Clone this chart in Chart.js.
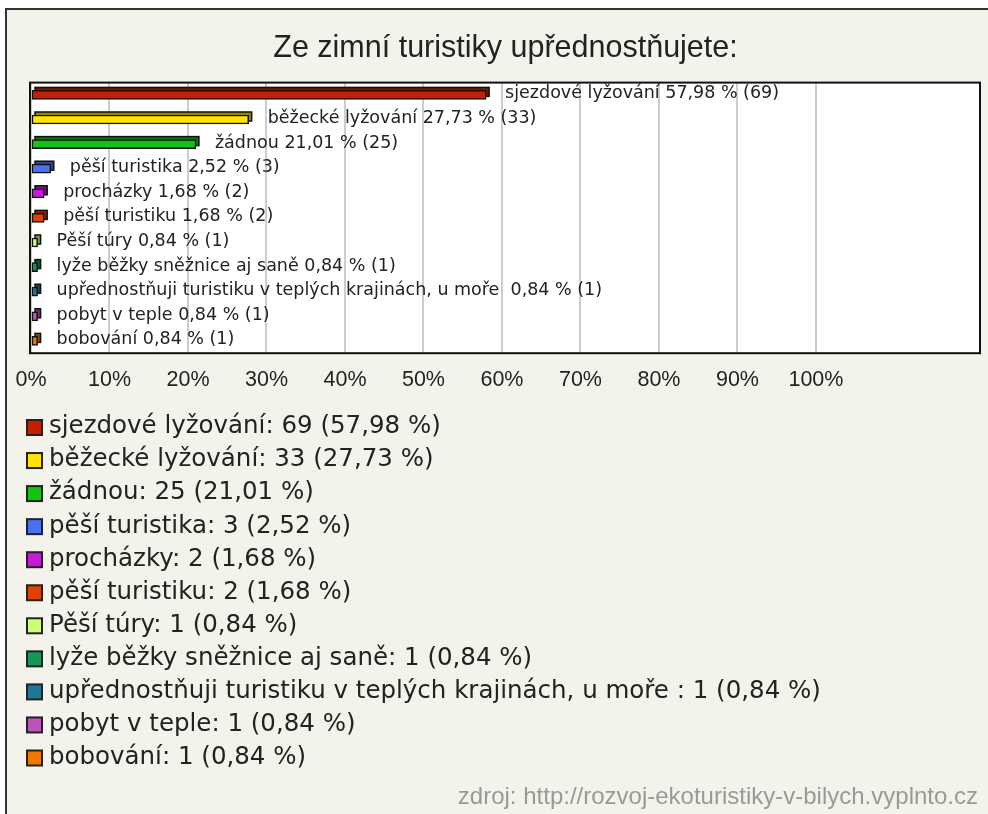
<!DOCTYPE html>
<html>
<head>
<meta charset="utf-8">
<script src="https://cdn.jsdelivr.net/npm/chart.js@4"></script>
<style>
  body { margin: 0; background: #fff; }
  #ramecek {
    position: absolute; left: 5px; top: 8px;
    width: 981px; height: 804px;
    background: #f4f3eb;
    border-left: 2px solid #333; border-top: 2px solid #333;
  }
</style>
</head>
<body>
<div id="ramecek"><canvas id="graf" width="981" height="804"></canvas></div>
<script>
// data z obrázku
const nadpis = "Ze zimní turistiky upřednostňujete:";
const zdroj = "zdroj: http://rozvoj-ekoturistiky-v-bilych.vyplnto.cz";
const moznosti = [
  "sjezdové lyžování",
  "běžecké lyžování",
  "žádnou",
  "pěší turistika",
  "procházky",
  "pěší turistiku",
  "Pěší túry",
  "lyže běžky sněžnice aj saně",
  "upřednostňuji turistiku v teplých krajinách, u moře ",
  "pobyt v teple",
  "bobování"
];
const pocty = [69, 33, 25, 3, 2, 2, 1, 1, 1, 1, 1];
const procenta = [57.98, 27.73, 21.01, 2.52, 1.68, 1.68, 0.84, 0.84, 0.84, 0.84, 0.84];
const barvy = ["#c42000", "#ffe400", "#14c414", "#4a72f0", "#c818d8", "#e04000",
               "#ccff77", "#119955", "#227799", "#bb55bb", "#ee7700"];
const osaTicky = [0, 10, 20, 30, 40, 50, 60, 70, 80, 90, 100];

const fmt = v => v.toFixed(2).replace(".", ",");

function ztmavit(hex, k) {
  const n = parseInt(hex.slice(1), 16);
  const r = Math.round(((n >> 16) & 255) * k);
  const g = Math.round(((n >> 8) & 255) * k);
  const b = Math.round((n & 255) * k);
  return `rgb(${r},${g},${b})`;
}

// bílé pozadí plochy a zadní stěna sloupců (3D efekt)
const pozadi = {
  id: "pozadi",
  beforeDraw(chart) {
    const { ctx, chartArea: a } = chart;
    ctx.save();
    ctx.fillStyle = "#fff";
    ctx.fillRect(a.left, a.top, a.right - a.left, a.bottom - a.top);
    ctx.restore();
  },
  beforeDatasetsDraw(chart) {
    const ctx = chart.ctx;
    const meta = chart.getDatasetMeta(0);
    ctx.save();
    meta.data.forEach((bar, i) => {
      const { x, y, base, height } = bar.getProps(["x", "y", "base", "height"], true);
      ctx.fillStyle = ztmavit(barvy[i], 0.6);
      ctx.strokeStyle = "#111";
      ctx.lineWidth = 1.5;
      ctx.fillRect(base + 3, y - height / 2 - 3, x - base, height);
      ctx.strokeRect(base + 3, y - height / 2 - 3, x - base, height);
    });
    ctx.restore();
  }
};

// popisky za sloupci, rámeček, legenda a zdroj
const popisky = {
  id: "popisky",
  afterDatasetsDraw(chart) {
    const ctx = chart.ctx;
    const meta = chart.getDatasetMeta(0);
    ctx.save();
    ctx.font = "17.5px 'DejaVu Sans'";
    ctx.fillStyle = "#222";
    ctx.textBaseline = "middle";
    meta.data.forEach((bar, i) => {
      ctx.fillText(moznosti[i] + " " + fmt(procenta[i]) + " % (" + pocty[i] + ")", bar.x + 19, bar.y - 1);
    });
    ctx.restore();
  },
  afterDraw(chart) {
    const { ctx, chartArea: a } = chart;
    ctx.save();
    ctx.strokeStyle = "#111";
    ctx.lineWidth = 2;
    ctx.strokeRect(a.left - 1, a.top, a.right - a.left + 1, a.bottom - a.top);

    ctx.textBaseline = "middle";
    moznosti.forEach((m, i) => {
      const y = 417 + 33.05 * i;
      ctx.fillStyle = barvy[i];
      ctx.fillRect(20, y - 7, 15, 15);
      ctx.strokeStyle = "#222";
      ctx.lineWidth = 2;
      ctx.strokeRect(20, y - 7, 15, 15);
      ctx.fillStyle = "#222";
      ctx.font = "24.5px 'DejaVu Sans'";
      ctx.fillText(m + ": " + pocty[i] + " (" + fmt(procenta[i]) + " %)", 42, y);
    });

    ctx.fillStyle = "#999";
    ctx.font = "24px 'Liberation Sans'";
    ctx.textAlign = "right";
    ctx.fillText(zdroj, 971, 787);
    ctx.restore();
  }
};

new Chart(document.getElementById("graf"), {
  type: "bar",
  data: {
    labels: moznosti,
    datasets: [{
      data: procenta,
      backgroundColor: barvy,
      borderColor: "#111",
      borderWidth: 1.5,
      borderSkipped: false,
      barThickness: 9
    }]
  },
  options: {
    indexAxis: "y",
    responsive: false,
    animation: false,
    layout: { padding: { left: 24, right: 8, top: 0, bottom: 407 } },
    plugins: {
      legend: { display: false },
      tooltip: { enabled: false },
      title: {
        display: true,
        text: nadpis,
        color: "#222",
        font: { family: "'Liberation Sans'", size: 30.5, weight: "normal" },
        padding: { top: 20, bottom: 16 }
      }
    },
    scales: {
      x: {
        min: 0,
        max: 120.9,
        afterBuildTicks: s => { s.ticks = osaTicky.map(v => ({ value: v })); },
        afterFit: s => { s.paddingLeft = 0; s.paddingRight = 0; },
        grid: { color: "#cdcdcd", lineWidth: 2, drawTicks: false },
        border: { display: false },
        ticks: {
          callback: v => v + "%",
          color: "#222",
          font: { family: "'Liberation Sans'", size: 21.5 },
          padding: 14,
          maxRotation: 0,
          autoSkip: false
        }
      },
      y: { display: false }
    }
  },
  plugins: [pozadi, popisky]
});
</script>
</body>
</html>
